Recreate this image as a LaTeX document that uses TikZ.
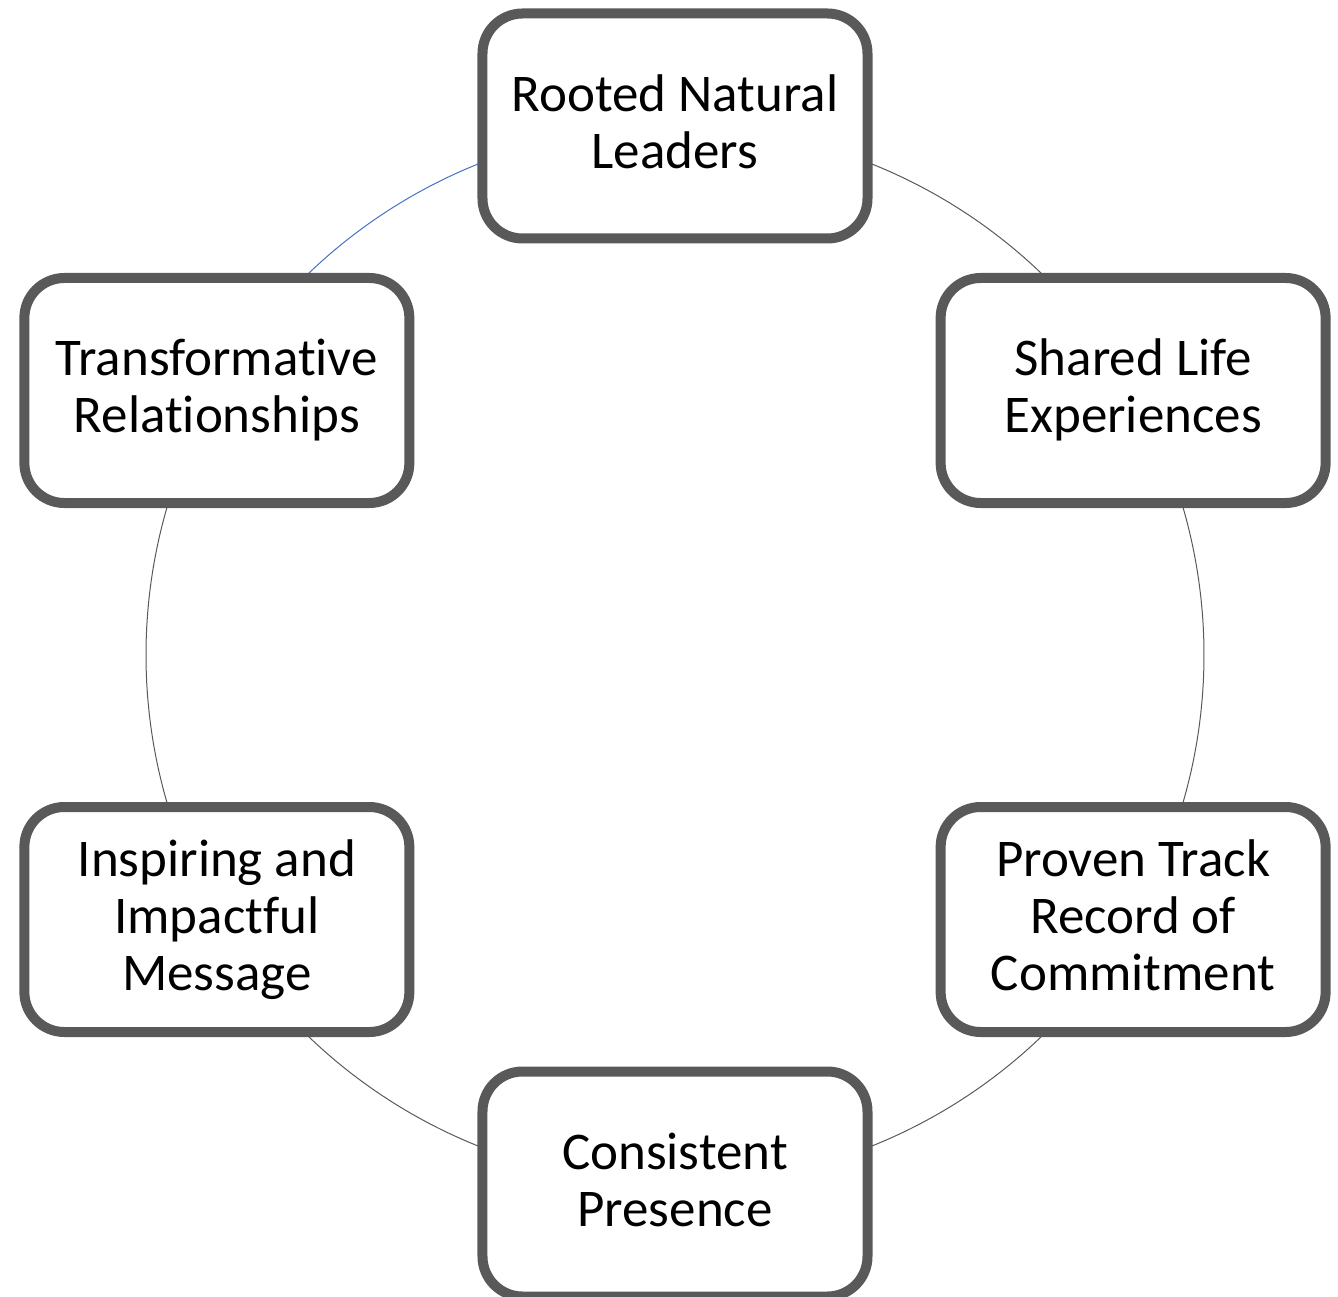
\documentclass[tikz,border=0pt]{standalone}
\usepackage{fontspec}
\setmainfont[Ligatures=NoCommon]{Carlito}
\usetikzlibrary{backgrounds}
\definecolor{boxgray}{HTML}{595959}
\definecolor{ringblue}{HTML}{4472C4}
\tikzset{
  stage/.style={draw=boxgray, line width=10pt, fill=white, rounded corners=40pt,
    minimum width=385pt, minimum height=225pt, align=center, text depth=9pt,
    font=\fontsize{53}{57}\selectfont},
  ring/.style={draw=boxgray, line width=1pt}
}
\begin{document}
\begin{tikzpicture}[x=1pt,y=1pt]
        \useasboundingbox (-675,-641) rectangle (663,655);

        \node (rooted)     [stage] at (90:529)   {Rooted Natural\\Leaders};
        \node (shared)     [stage] at (30:529)   {Shared Life\\Experiences};
        \node (proven)     [stage] at (-30:529)  {Proven Track\\Record of\\Commitment};
        \node (consistent) [stage] at (-90:529)  {Consistent\\Presence};
        \node (inspiring)  [stage] at (-150:529) {Inspiring and\\Impactful\\Message};
        \node (transform)  [stage] at (150:529)  {Transformative\\Relationships};

        % the ring runs behind the boxes
        \begin{scope}[on background layer]
          \foreach \from/\ang in {rooted/90, shared/30, proven/-30, consistent/-90, inspiring/-150}
            \draw [ring] (\from.center) arc [start angle=\ang, end angle=\ang-60, radius=529];
          \draw [ring, draw=ringblue] (transform.center) arc [start angle=150, end angle=90, radius=529];
        \end{scope}
      \end{tikzpicture}
\end{document}
